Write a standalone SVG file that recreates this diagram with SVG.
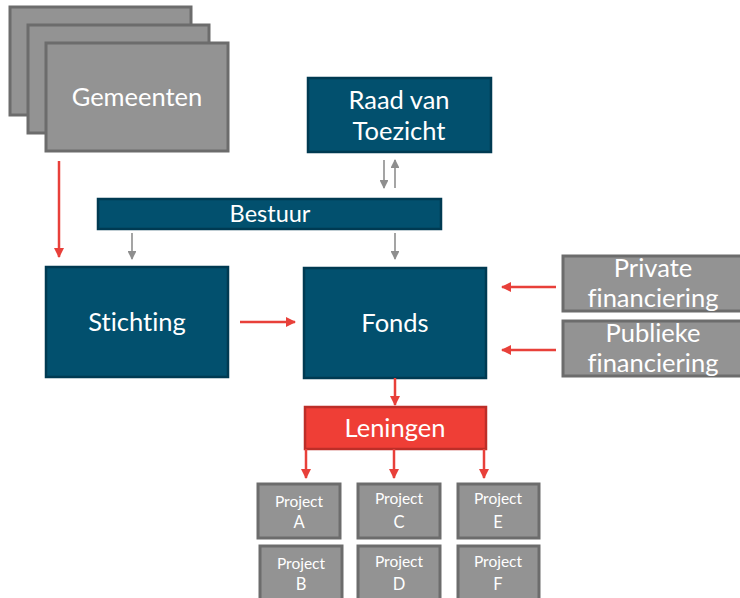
<svg xmlns="http://www.w3.org/2000/svg" width="740" height="598" viewBox="0 0 740 598">
  <defs>
    <style>
      text { font-family: Lato, "Open Sans", "Liberation Sans", sans-serif; fill: #ffffff; text-anchor: middle; font-variant-ligatures: none; }
      .navy { fill: #02506e; stroke: #003a52; stroke-width: 2.5; }
      .grey { fill: #939393; stroke: #6c6c6c; stroke-width: 3; }
      .red  { fill: #ef3e36; stroke: #bd2e28; stroke-width: 2.5; }
      .big  { font-size: 25.5px; }
      .mid  { font-size: 23.5px; }
      .sm   { font-size: 15.5px; }
      .ltr  { font-size: 16.5px; }
      .lred { stroke: #e8403a; stroke-width: 2.5; fill: none; }
      .lgry { stroke: #8e8e8e; stroke-width: 1.6; fill: none; }
    </style>
    <marker id="ar" viewBox="0 0 10 10" refX="9" refY="5" markerWidth="4" markerHeight="4" orient="auto" markerUnits="strokeWidth">
      <path d="M0,0 L10,5 L0,10 z" fill="#e8403a"/>
    </marker>
    <marker id="ag" viewBox="0 0 10 10" refX="9" refY="5" markerWidth="5.5" markerHeight="5.5" orient="auto" markerUnits="strokeWidth">
      <path d="M0,0 L10,5 L0,10 z" fill="#8e8e8e"/>
    </marker>
  </defs>

  <g id="gemeenten">
    <rect class="grey" x="10" y="7" width="181" height="108"/>
    <rect class="grey" x="28" y="25" width="181" height="108"/>
    <rect class="grey" x="46" y="43" width="182" height="108"/>
    <text class="big" x="137" y="106">Gemeenten</text>
  </g>

  <g id="raad">
    <rect class="navy" x="308" y="78" width="183" height="74"/>
    <text class="big" x="399" y="109">Raad van</text>
    <text class="big" x="399" y="140">Toezicht</text>
  </g>

  <g id="bestuur">
    <rect class="navy" x="98" y="199" width="343" height="30"/>
    <text class="mid" x="270" y="222">Bestuur</text>
  </g>

  <g id="stichting">
    <rect class="navy" x="46" y="267" width="182" height="110"/>
    <text class="big" x="137" y="331">Stichting</text>
  </g>

  <g id="fonds">
    <rect class="navy" x="304" y="268" width="182" height="110"/>
    <text class="big" x="395" y="332">Fonds</text>
  </g>

  <g id="private">
    <rect class="grey" x="563" y="256" width="182" height="55"/>
    <text class="big" x="653" y="277">Private</text>
    <text class="big" x="653" y="307">financiering</text>
  </g>

  <g id="publieke">
    <rect class="grey" x="563" y="321" width="182" height="55"/>
    <text class="big" x="653" y="342">Publieke</text>
    <text class="big" x="653" y="372">financiering</text>
  </g>

  <g id="leningen">
    <rect class="red" x="305" y="407" width="181" height="42"/>
    <text class="big" x="395" y="437">Leningen</text>
  </g>

  <g id="project-a">
    <rect class="grey" x="258" y="484" width="82" height="54"/>
    <text class="sm" x="299" y="507">Project</text>
    <text class="ltr" x="299" y="528">A</text>
  </g>
  <g id="project-c">
    <rect class="grey" x="358" y="484" width="82" height="54"/>
    <text class="sm" x="399" y="504">Project</text>
    <text class="ltr" x="399" y="528">C</text>
  </g>
  <g id="project-e">
    <rect class="grey" x="458" y="484" width="81" height="54"/>
    <text class="sm" x="498" y="504">Project</text>
    <text class="ltr" x="498" y="528">E</text>
  </g>
  <g id="project-b">
    <rect class="grey" x="260" y="546" width="82" height="60"/>
    <text class="sm" x="301" y="569">Project</text>
    <text class="ltr" x="301" y="590">B</text>
  </g>
  <g id="project-d">
    <rect class="grey" x="358" y="546" width="82" height="60"/>
    <text class="sm" x="399" y="567">Project</text>
    <text class="ltr" x="399" y="590">D</text>
  </g>
  <g id="project-f">
    <rect class="grey" x="458" y="546" width="81" height="60"/>
    <text class="sm" x="498" y="567">Project</text>
    <text class="ltr" x="498" y="590">F</text>
  </g>

  <g id="connectors">
    <line class="lred" x1="59" y1="161" x2="59" y2="257" marker-end="url(#ar)"/>
    <line class="lred" x1="240" y1="322" x2="295" y2="322" marker-end="url(#ar)"/>
    <line class="lred" x1="556" y1="287" x2="502" y2="287" marker-end="url(#ar)"/>
    <line class="lred" x1="556" y1="350" x2="502" y2="350" marker-end="url(#ar)"/>
    <line class="lred" x1="395" y1="378" x2="395" y2="405" marker-end="url(#ar)"/>
    <line class="lred" x1="306" y1="449" x2="306" y2="478" marker-end="url(#ar)"/>
    <line class="lred" x1="394" y1="449" x2="394" y2="478" marker-end="url(#ar)"/>
    <line class="lred" x1="484" y1="449" x2="484" y2="478" marker-end="url(#ar)"/>
    <line class="lgry" x1="384" y1="160" x2="384" y2="188" marker-end="url(#ag)"/>
    <line class="lgry" x1="395" y1="188" x2="395" y2="160" marker-end="url(#ag)"/>
    <line class="lgry" x1="132" y1="233" x2="132" y2="259" marker-end="url(#ag)"/>
    <line class="lgry" x1="395" y1="233" x2="395" y2="259" marker-end="url(#ag)"/>
  </g>
</svg>
